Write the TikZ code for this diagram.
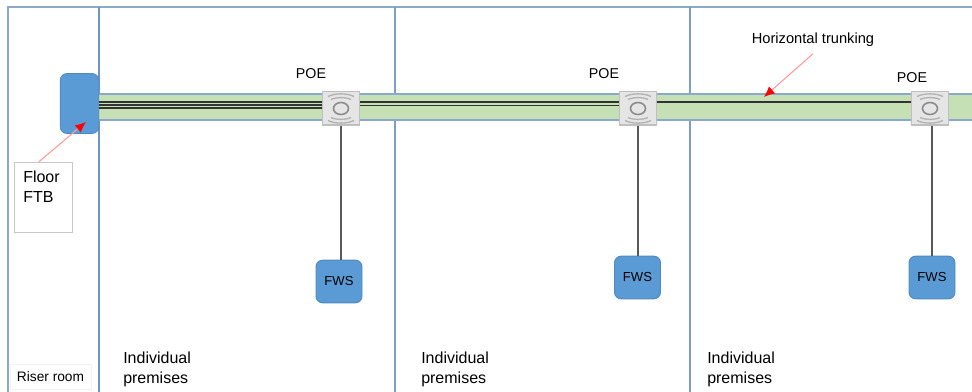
\documentclass[tikz,border=0pt]{standalone}
\usepackage{fontspec}
\setmainfont{Liberation Sans}
\usetikzlibrary{arrows.meta}
\definecolor{wallblue}{HTML}{6F94BF}
\definecolor{trunkgreen}{HTML}{C5E0B4}
\definecolor{boxblue}{HTML}{5B9BD5}
\definecolor{boxedge}{HTML}{4F88BD}
\tikzset{
  wall/.style={draw=wallblue, line width=1.5pt},
  cable/.style={draw=black!80, line width=1pt},
  drop/.style={draw=black!65, line width=1.7pt},
  pointer/.style={draw=red!40, line width=0.8pt, -{Latex[red, length=8pt, width=7pt]}},
  fws/.style={rectangle, rounded corners=5pt, fill=boxblue, draw=boxedge, line width=0.7pt, minimum width=34.5pt, minimum height=32pt, inner sep=0pt, font=\fontsize{9.8}{12}\selectfont},
  ftb/.style={rectangle, rounded corners=5pt, fill=boxblue, draw=boxedge, line width=0.5pt, minimum width=29pt, minimum height=45pt},
  poe/.style={rectangle, fill=black!10, draw=black!25, line width=1pt, minimum width=28pt, minimum height=25pt, inner sep=0pt},
  poelabel/.style={inner sep=0pt, font=\fontsize{10.7}{13}\selectfont},
  premises/.style={anchor=north west, inner sep=0pt, align=left, font=\fontsize{12}{15}\selectfont},
  waves/.pic={
    \draw[black!45, line width=1.2pt] (0,0) ellipse (7.5 and 6);
    \foreach \s in {1,-1} {
      \draw[black!30, line width=1pt] (-13,-12*\s) .. controls (-6,-15.5*\s) and (6,-15.5*\s) .. (13,-12*\s);
      \draw[black!30, line width=1pt] (-10,-9*\s) .. controls (-5,-11.5*\s) and (5,-11.5*\s) .. (10,-9*\s);
    }
  }
}

\begin{document}
\begin{tikzpicture}[x=0.75pt, y=-0.75pt]
  \useasboundingbox (0,0) rectangle (972,392);

  % walls
  \draw[wall, draw=wallblue!80, line width=1.3pt] (972,7) -- (8,7) -- (8,392);
  \draw[wall, line width=1.9pt] (99,7) -- (99,392);
  \draw[wall, draw=wallblue!90] (394.5,7) -- (394.5,392);
  \draw[wall, draw=wallblue!90] (690,7) -- (690,392);

  % trunking
  \fill[trunkgreen] (99,94) rectangle (972,120);
  \draw[wallblue!80, line width=1pt] (99,94) -- (972,94);
  \draw[wallblue!80, line width=1pt] (99,120) -- (972,120);

  \node[ftb] (ftb) at (79.5,103.5) {};
  \node[poe] (poe1) at (341,108.5) {};
  \node[poe] (poe2) at (638,108.5) {};
  \node[poe] (poe3) at (930,108.5) {};
  \pic at (poe1) {waves};
  \pic at (poe2) {waves};
  \pic at (poe3) {waves};

  \node[fws] (fws1) at (339,281.5) {FWS};
  \node[fws] (fws2) at (637.5,277.5) {FWS};
  \node[fws] (fws3) at (932,277.5) {FWS};

  \node[poelabel] (poetext1) at (311,74) {POE};
  \node[poelabel] (poetext2) at (604,74) {POE};
  \node[poelabel] (poetext3) at (912,78) {POE};

  % cables
  \draw[cable] (ftb.east |- 0,102) -- (poe1.west |- 0,102);
  \draw[cable] (ftb.east |- 0,105) -- (poe1.west |- 0,105);
  \draw[cable] (ftb.east |- 0,108) -- (poe1.west |- 0,108);
  \draw[cable] (poe1.east |- 0,102) -- (poe2.west |- 0,102);
  \draw[cable] (poe1.east |- 0,105.5) -- (poe2.west |- 0,105.5);
  \draw[cable] (poe2.east |- 0,102) -- (poe3.west |- 0,102);
  \draw[drop] (poe1.south) -- (poe1.south |- fws1.north);
  \draw[drop] (poe2.south) -- (poe2.south |- fws2.north);
  \draw[drop] (fws3.north |- poe3.south) -- (fws3.north);

  % labels
  \node[rectangle, draw=black!22, fill=white, line width=0.5pt, minimum width=43.5pt, minimum height=52.5pt] (floorbox) at (43,197) {};
  \node[premises] (floortext) at (23,171) {Floor\\FTB};
  \node[inner sep=0pt, font=\fontsize{11}{13}\selectfont] (trunktext) at (813,40) {Horizontal trunking};
  \node[rectangle, draw=black!5, fill=white, line width=0.4pt, minimum width=60.5pt, minimum height=18.5pt, inner sep=0pt, font=\fontsize{10.3}{12}\selectfont] (riser) at (50.5,376.5) {Riser room};
  \node[premises] (room1) at (123,352) {Individual\\premises};
  \node[premises] (room2) at (421,352) {Individual\\premises};
  \node[premises] (room3) at (707,352) {Individual\\premises};

  \coordinate (ftbtip) at (86,122);
  \coordinate (trunktip) at (764,97);
  \draw[pointer] ([xshift=-3pt]floorbox.north) -- (ftbtip);
  \draw[pointer] ([yshift=-5pt]trunktext.south) -- (trunktip);
\end{tikzpicture}
\end{document}
